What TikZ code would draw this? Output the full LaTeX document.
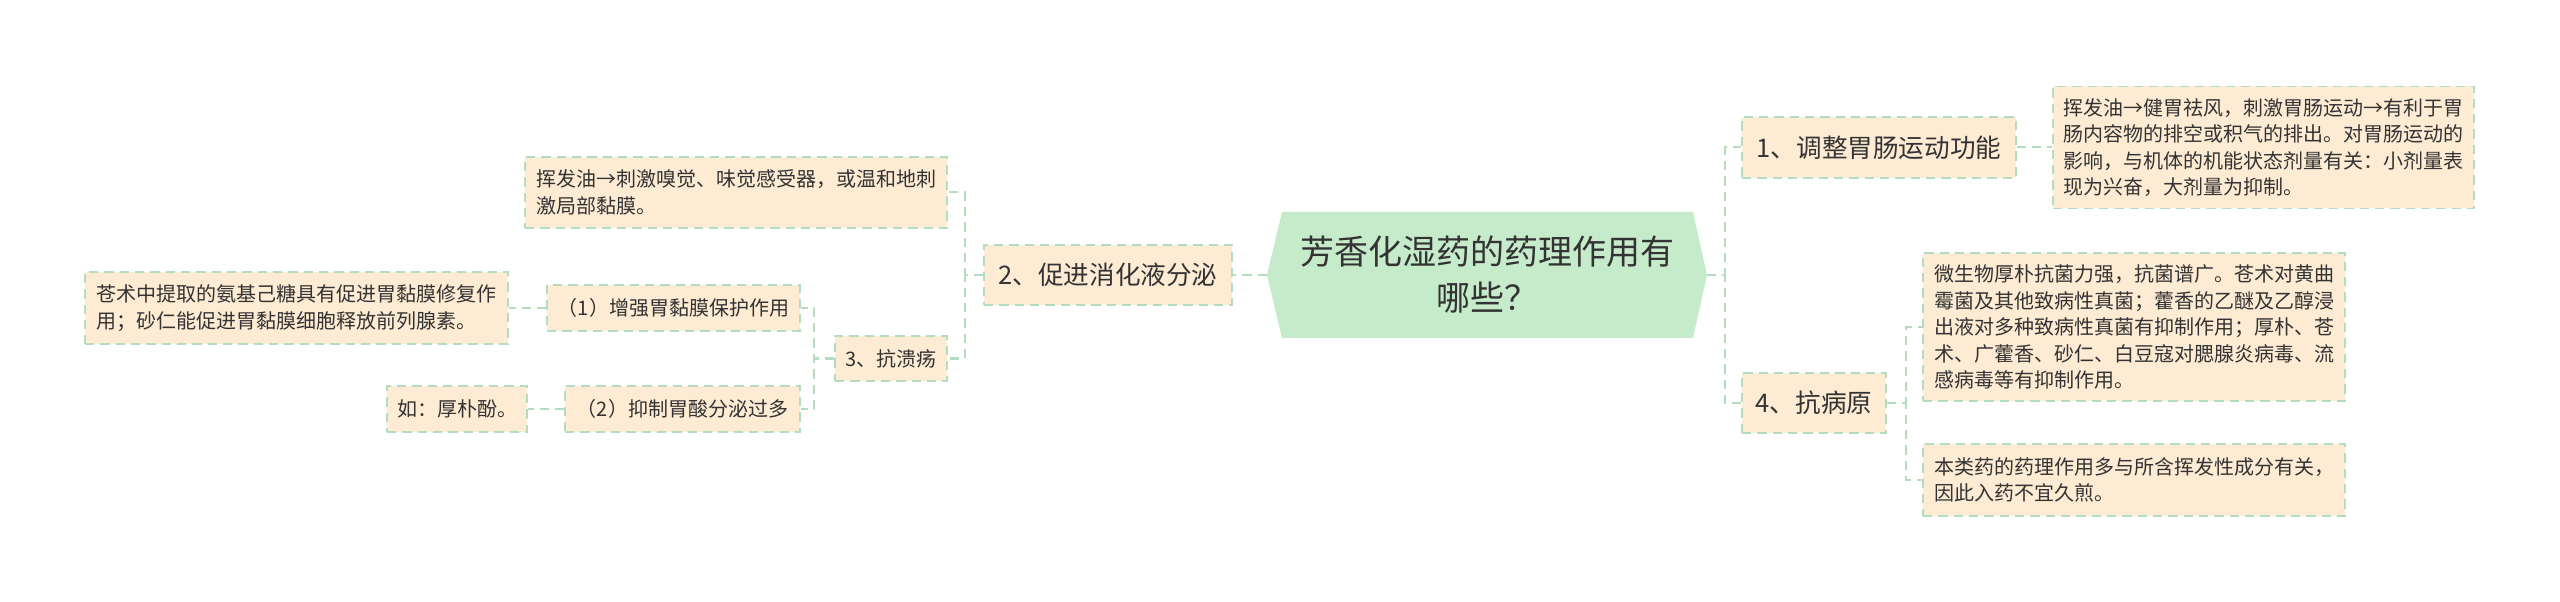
\documentclass[tikz,border=0pt]{standalone}
\usepackage{fontspec}
\setmainfont{Noto Sans CJK SC}
\definecolor{boxfill}{HTML}{FDEBD3}
\definecolor{boxline}{HTML}{B4DDC0}
\definecolor{centerfill}{HTML}{C6EBCB}
\definecolor{txt}{HTML}{333333}
\tikzset{
  wh/.style 2 args={minimum width=#1*0.75pt, minimum height=#2*0.75pt},
  box/.style={draw=boxline, fill=boxfill, dash pattern=on 7pt off 4.5pt, line width=1.1pt, inner sep=0pt, text=txt},
  mainbox/.style={box, font=\fontsize{19.2}{24}\selectfont},
  smallbox/.style={box, font=\fontsize{15}{19.9}\selectfont, align=left},
  conn/.style={draw=boxline, dash pattern=on 7pt off 4.5pt, line width=1.5pt},
}
\begin{document}
\begin{tikzpicture}[x=0.75pt,y=-0.75pt]
\useasboundingbox[fill=white] (0,0) rectangle (2560,602);
% central topic
\fill[centerfill] (1267,275) -- (1282,212) -- (1693,212) -- (1707,275) -- (1693,338) -- (1282,338) -- cycle;
\node[text=txt, align=center, inner sep=0pt, font=\fontsize{25.5}{34.5}\selectfont] (c) at (1487,275) {芳香化湿药的药理作用有\\哪些？};
\coordinate (cL) at (1267,275);
\coordinate (cR) at (1707,275);
% right side
\node[mainbox, wh={274}{61}] (n1) at (1879,147.5) {1、调整胃肠运动功能};
\node[smallbox, wh={421}{122}] (t1) at (2263.5,147.5) {挥发油→健胃祛风，刺激胃肠运动→有利于胃\\肠内容物的排空或积气的排出。对胃肠运动的\\影响，与机体的机能状态剂量有关：小剂量表\\现为兴奋，大剂量为抑制。};
\node[mainbox, wh={144}{60}] (n4) at (1814,403) {4、抗病原};
\node[smallbox, wh={422}{148}] (t4a) at (2134,327) {微生物厚朴抗菌力强，抗菌谱广。苍术对黄曲\\霉菌及其他致病性真菌；藿香的乙醚及乙醇浸\\出液对多种致病性真菌有抑制作用；厚朴、苍\\术、广藿香、砂仁、白豆寇对腮腺炎病毒、流\\感病毒等有抑制作用。};
\node[smallbox, wh={422}{72}] (t4b) at (2134,480) {本类药的药理作用多与所含挥发性成分有关，\\因此入药不宜久煎。};
% left side
\node[mainbox, wh={248}{60}] (n2) at (1108,275) {2、促进消化液分泌};
\node[smallbox, wh={422}{71}] (t2) at (736,192.5) {挥发油→刺激嗅觉、味觉感受器，或温和地刺\\激局部黏膜。};
\node[smallbox, wh={112}{45}] (n3) at (891,358.5) {3、抗溃疡};
\node[smallbox, wh={253}{46}] (s1) at (673.5,308) {（1）增强胃黏膜保护作用};
\node[smallbox, wh={423}{72}] (s1t) at (296.5,308) {苍术中提取的氨基己糖具有促进胃黏膜修复作\\用；砂仁能促进胃黏膜细胞释放前列腺素。};
\node[smallbox, wh={235}{46}] (s2) at (682.5,409) {（2）抑制胃酸分泌过多};
\node[smallbox, wh={140}{46}] (s2t) at (457,409) {如：厚朴酚。};
% connectors
\draw[conn] (cL) -- (n2.east);
\draw[conn] (cR) -- ++(18,0) |- (n1.west);
\draw[conn] (cR) -- ++(18,0) |- (n4.west);
\draw[conn] (n1.east) -- (t1.west);
\draw[conn] (n4.east) -- ++(19,0) |- (t4a.west);
\draw[conn] (n4.east) -- ++(19,0) |- (t4b.west);
\draw[conn] (n2.west) -- ++(-18,0) |- (t2.east);
\draw[conn] (n2.west) -- ++(-18,0) |- (n3.east);
\draw[conn] (n3.west) -- ++(-20,0) |- (s1.east);
\draw[conn] (n3.west) -- ++(-20,0) |- (s2.east);
\draw[conn] (s1.west) -- (s1t.east);
\draw[conn] (s2.west) -- (s2t.east);
\end{tikzpicture}
\end{document}
